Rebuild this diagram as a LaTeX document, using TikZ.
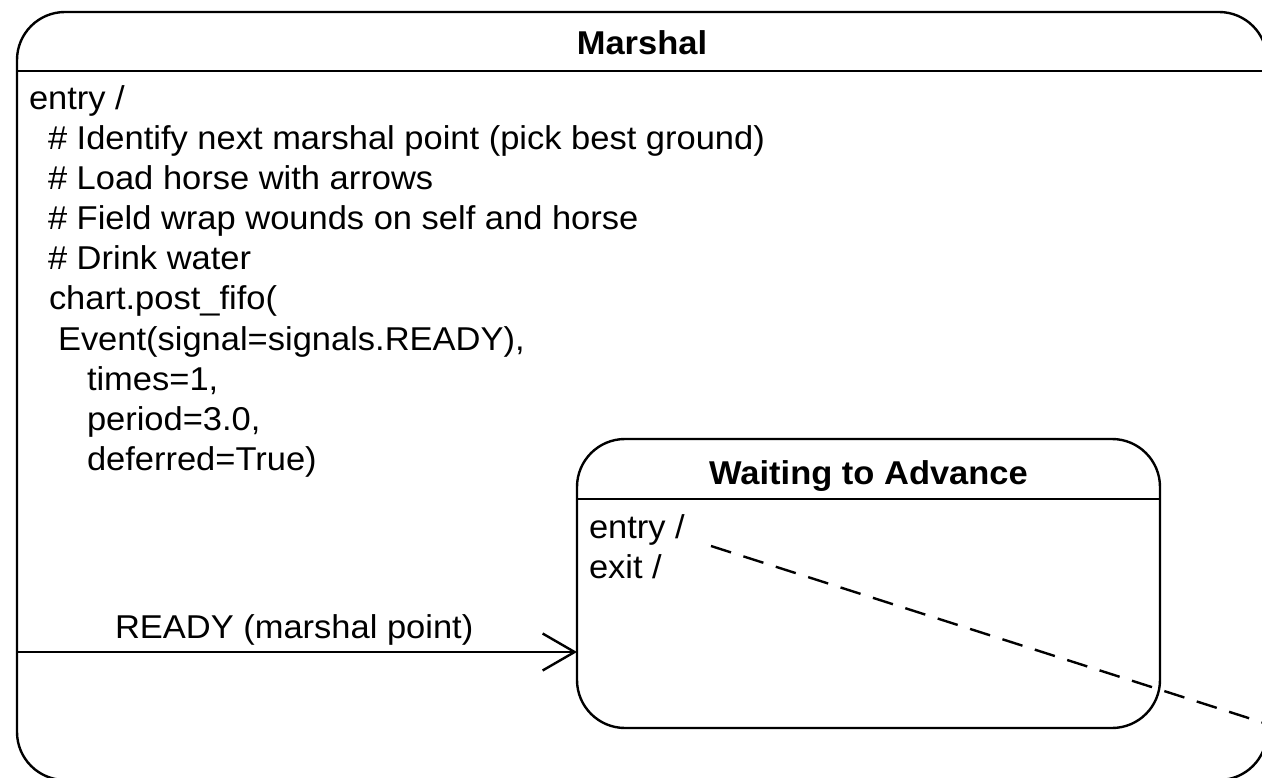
\documentclass[tikz,border=0pt]{standalone}
\usepackage{fontspec}
\setmainfont[FakeStretch=1.045]{Liberation Sans}
\usetikzlibrary{arrows.meta}
\begin{document}
\begin{tikzpicture}[x=1pt,y=-1pt,line width=2.4pt,
  statebox/.style={draw,rounded corners=48pt,inner sep=0pt,outer sep=0pt},
  txt/.style={inner sep=0pt,outer sep=0pt,anchor=base west,font=\fontsize{33}{40}\selectfont},
  ttl/.style={inner sep=0pt,outer sep=0pt,anchor=base,font=\fontsize{33}{40}\selectfont\bfseries},
  trans/.style={-{Straight Barb[length=32pt,width=37pt]}},
  dashline/.style={dash pattern=on 21pt off 13pt}]
\useasboundingbox (0,0) rectangle (1262,778);
\clip (0,0) rectangle (1262,778);
% outer state
\node[statebox,minimum width=1250pt,minimum height=768pt] (marshal) at (642,396) {};
\draw (marshal.west |- 0,71) -- (marshal.east |- 0,71);
\node[ttl] (marshaltitle) at (642,55) {Marshal};
\node[txt] (m1) at (29,110) {entry /};
\node[txt] (m2) at (48,150) {\# Identify next marshal point (pick best ground)};
\node[txt] (m3) at (48,190) {\# Load horse with arrows};
\node[txt] (m4) at (48,230) {\# Field wrap wounds on self and horse};
\node[txt] (m5) at (48,270) {\# Drink water};
\node[txt] (m6) at (49,310) {chart.post\_fifo(};
\node[txt] (m7) at (58,350) {Event(signal=signals.READY),};
\node[txt] (m8) at (87,390) {times=1,};
\node[txt] (m9) at (87,430) {period=3.0,};
\node[txt] (m10) at (87,470) {deferred=True)};
% inner state
\node[statebox,minimum width=583pt,minimum height=289pt] (waiting) at (868.5,583.5) {};
\draw (waiting.west |- 0,499) -- (waiting.east |- 0,499);
\node[ttl] (waitingtitle) at (868.5,484) {Waiting to Advance};
\node[txt] (w1) at (589,538) {entry /};
\node[txt] (w2) at (589,578) {exit /};
% transition
\draw[trans] (marshal.west |- 0,652) -- (waiting.west |- 0,652);
\node[txt] (readylbl) at (115,638) {READY (marshal point)};
% dashed line
\coordinate (dashstart) at (711,546);
\coordinate (dashend) at (1400,766.5);
\draw[dashline] (dashstart) -- (dashend);
\end{tikzpicture}
\end{document}
